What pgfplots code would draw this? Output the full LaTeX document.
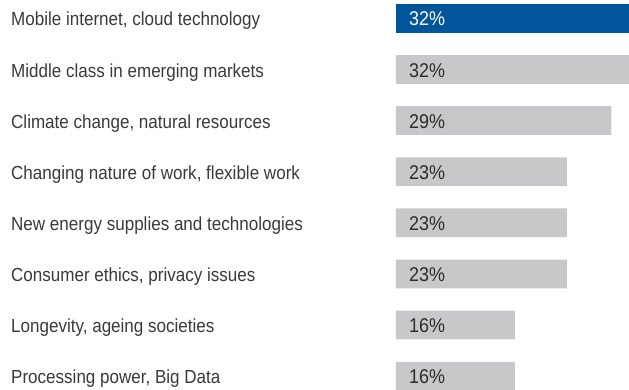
\documentclass[border=0pt]{standalone}
\usepackage{pgfplots}
\pgfplotsset{compat=1.18}
\usepackage{fontspec}
\setmainfont{Liberation Sans}[FakeStretch=0.9]
\definecolor{barblue}{RGB}{0,85,155}
\definecolor{bargrey}{RGB}{200,200,202}
\definecolor{labtxt}{RGB}{58,58,58}
\definecolor{valtxt}{RGB}{45,45,45}

\begin{document}
\begin{tikzpicture}
\begin{axis}[
    scale only axis, width=233bp, height=390bp,
    xmin=0, xmax=31.36,
    ymin=-0.358, ymax=7.27, y dir=reverse,
    enlargelimits=false,
    axis line style={draw=none},
    major tick length=0pt, tick style={draw=none},
    xtick=\empty,
    ytick={0,...,7},
    yticklabels={
      {Mobile internet, cloud technology},
      {Middle class in emerging markets},
      {Climate change, natural resources},
      {Changing nature of work, flexible work},
      {New energy supplies and technologies},
      {Consumer ethics, privacy issues},
      {Longevity, ageing societies},
      {Processing power, Big Data}},
    yticklabel style={anchor=base west, inner sep=0pt, xshift=-385bp, yshift=-7.7bp,
      font=\fontsize{19}{22}\selectfont, text=labtxt},
  ]
  % highlighted bar
  \addplot[xbar, bar shift=0pt, bar width=0.561, fill=barblue, draw=none]
    coordinates {(32,0)};
  % remaining bars
  \addplot[xbar, bar shift=0pt, bar width=0.561, fill=bargrey, draw=none]
    coordinates {(32,1) (29,2) (23,3) (23,4) (23,5) (16,6) (16,7)};
  % value labels
  \addplot[draw=none, point meta=explicit symbolic, nodes near coords={\pgfplotspointmeta\%},
    nodes near coords style={anchor=base west, inner sep=0pt, xshift=13bp, yshift=-7.7bp,
      font=\fontsize{20}{22}\selectfont, text=white}]
    coordinates {(0,0) [32]};
  \addplot[draw=none, point meta=explicit symbolic, nodes near coords={\pgfplotspointmeta\%},
    nodes near coords style={anchor=base west, inner sep=0pt, xshift=13bp, yshift=-7.7bp,
      font=\fontsize{20}{22}\selectfont, text=valtxt}]
    coordinates {(0,1) [32] (0,2) [29] (0,3) [23] (0,4) [23] (0,5) [23] (0,6) [16] (0,7) [16]};
\end{axis}
\path ([xshift=-396bp]current axis.south west) rectangle (current axis.north east);
\end{tikzpicture}
\end{document}
